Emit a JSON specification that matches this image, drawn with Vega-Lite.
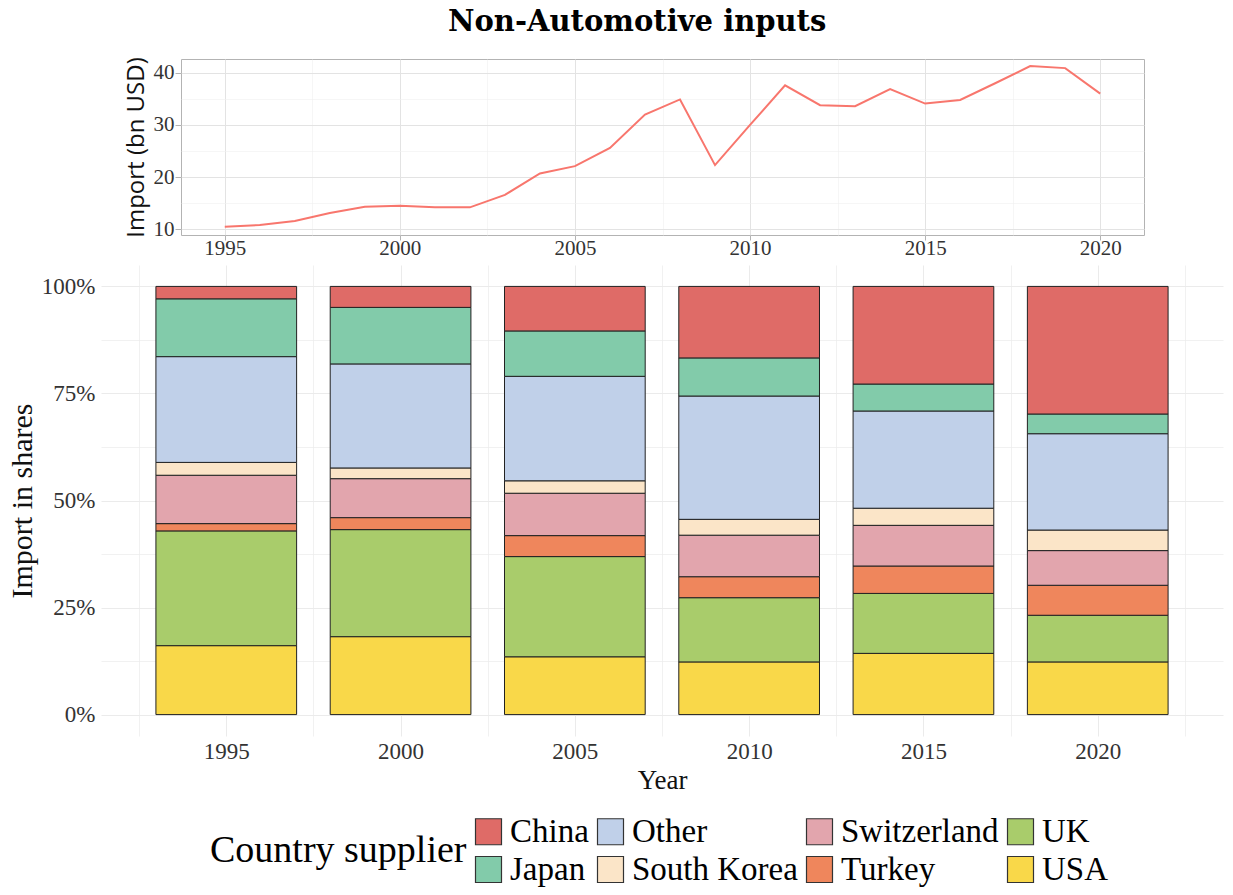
{
  "$schema": "https://vega.github.io/schema/vega-lite/v6.json",
  "background": "white",
  "padding": {"left": 7, "top": 8, "right": 4, "bottom": 4},
  "title": {"text": "Non-Automotive inputs", "font": "DejaVu Serif", "fontSize": 29, "fontWeight": "bold", "color": "#000", "anchor": "middle", "dx": 22, "offset": 19},
  "datasets": {
    "imports": [
      {"year": 1995, "import": 10.5}, {"year": 1996, "import": 10.8}, {"year": 1997, "import": 11.6},
      {"year": 1998, "import": 13.1}, {"year": 1999, "import": 14.3}, {"year": 2000, "import": 14.5},
      {"year": 2001, "import": 14.2}, {"year": 2002, "import": 14.2}, {"year": 2003, "import": 16.6},
      {"year": 2004, "import": 20.7}, {"year": 2005, "import": 22.1}, {"year": 2006, "import": 25.6},
      {"year": 2007, "import": 32.0}, {"year": 2008, "import": 34.9}, {"year": 2009, "import": 22.3},
      {"year": 2010, "import": 30.0}, {"year": 2011, "import": 37.6}, {"year": 2012, "import": 33.8},
      {"year": 2013, "import": 33.6}, {"year": 2014, "import": 36.9}, {"year": 2015, "import": 34.1},
      {"year": 2016, "import": 34.8}, {"year": 2017, "import": 38.0}, {"year": 2018, "import": 41.3},
      {"year": 2019, "import": 40.9}, {"year": 2020, "import": 36.0}
    ],
    "shares": [
      {"year": 1995, "country": "USA", "share": 16.1}, {"year": 1995, "country": "UK", "share": 26.8},
      {"year": 1995, "country": "Turkey", "share": 1.7}, {"year": 1995, "country": "Switzerland", "share": 11.3},
      {"year": 1995, "country": "South Korea", "share": 3.0}, {"year": 1995, "country": "Other", "share": 24.7},
      {"year": 1995, "country": "Japan", "share": 13.5}, {"year": 1995, "country": "China", "share": 2.9},
      {"year": 2000, "country": "USA", "share": 18.2}, {"year": 2000, "country": "UK", "share": 25.0},
      {"year": 2000, "country": "Turkey", "share": 2.8}, {"year": 2000, "country": "Switzerland", "share": 9.1},
      {"year": 2000, "country": "South Korea", "share": 2.5}, {"year": 2000, "country": "Other", "share": 24.3},
      {"year": 2000, "country": "Japan", "share": 13.2}, {"year": 2000, "country": "China", "share": 4.9},
      {"year": 2005, "country": "USA", "share": 13.5}, {"year": 2005, "country": "UK", "share": 23.4},
      {"year": 2005, "country": "Turkey", "share": 4.9}, {"year": 2005, "country": "Switzerland", "share": 9.9},
      {"year": 2005, "country": "South Korea", "share": 2.9}, {"year": 2005, "country": "Other", "share": 24.4},
      {"year": 2005, "country": "Japan", "share": 10.6}, {"year": 2005, "country": "China", "share": 10.4},
      {"year": 2010, "country": "USA", "share": 12.3}, {"year": 2010, "country": "UK", "share": 15.0},
      {"year": 2010, "country": "Turkey", "share": 4.9}, {"year": 2010, "country": "Switzerland", "share": 9.7},
      {"year": 2010, "country": "South Korea", "share": 3.7}, {"year": 2010, "country": "Other", "share": 28.8},
      {"year": 2010, "country": "Japan", "share": 8.9}, {"year": 2010, "country": "China", "share": 16.7},
      {"year": 2015, "country": "USA", "share": 14.3}, {"year": 2015, "country": "UK", "share": 14.0},
      {"year": 2015, "country": "Turkey", "share": 6.4}, {"year": 2015, "country": "Switzerland", "share": 9.5},
      {"year": 2015, "country": "South Korea", "share": 4.0}, {"year": 2015, "country": "Other", "share": 22.7},
      {"year": 2015, "country": "Japan", "share": 6.3}, {"year": 2015, "country": "China", "share": 22.8},
      {"year": 2020, "country": "USA", "share": 12.3}, {"year": 2020, "country": "UK", "share": 10.9},
      {"year": 2020, "country": "Turkey", "share": 7.0}, {"year": 2020, "country": "Switzerland", "share": 8.1},
      {"year": 2020, "country": "South Korea", "share": 4.8}, {"year": 2020, "country": "Other", "share": 22.5},
      {"year": 2020, "country": "Japan", "share": 4.6}, {"year": 2020, "country": "China", "share": 29.8}
    ]
  },
  "spacing": 6,
  "resolve": {"scale": {"color": "independent"}, "legend": {"color": "independent"}},
  "vconcat": [
    {
      "spacing": 0,
      "bounds": "flush",
      "hconcat": [
        {
          "width": 80,
          "height": 176,
          "data": {"values": [{"blank": ""}]},
          "mark": {"type": "text", "text": ""},
          "encoding": {}
        },
        {
          "width": 963,
          "height": 176,
          "data": {"name": "imports"},
          "view": {"stroke": "#B3B3B3", "strokeWidth": 1},
          "mark": {"type": "line", "color": "#F8766D", "strokeWidth": 2},
          "encoding": {
            "x": {
              "field": "year", "type": "quantitative",
              "scale": {"domain": [1993.75, 2021.25], "nice": false, "zero": false},
              "axis": {
                "title": null,
                "values": [1995, 1997.5, 2000, 2002.5, 2005, 2007.5, 2010, 2012.5, 2015, 2017.5, 2020],
                "format": "d",
                "labelExpr": "datum.value % 5 === 0 ? datum.label : ''",
                "grid": true,
                "gridColor": {"condition": {"test": "datum.value % 5 === 0", "value": "#E3E3E3"}, "value": "#F0F0F0"},
                "gridWidth": {"condition": {"test": "datum.value % 5 === 0", "value": 1}, "value": 0.6},
                "ticks": true,
                "tickColor": "#B3B3B3",
                "tickSize": 5,
                "tickOpacity": {"condition": {"test": "datum.value % 5 === 0", "value": 1}, "value": 0},
                "labelFontSize": 21,
                "labelPadding": -3
              }
            },
            "y": {
              "field": "import", "type": "quantitative",
              "scale": {"domain": [8.9, 42.65], "nice": false, "zero": false},
              "axis": {
                "title": "Import (bn USD)",
                "titleFont": "Open Sans",
                "titleFontSize": 24,
                "titlePadding": 5,
                "values": [10, 15, 20, 25, 30, 35, 40],
                "labelExpr": "datum.value % 10 === 0 ? datum.label : ''",
                "grid": true,
                "gridColor": {"condition": {"test": "datum.value % 10 === 0", "value": "#E3E3E3"}, "value": "#F0F0F0"},
                "gridWidth": {"condition": {"test": "datum.value % 10 === 0", "value": 1}, "value": 0.6},
                "ticks": true,
                "tickColor": "#B3B3B3",
                "tickSize": 6,
                "tickOpacity": {"condition": {"test": "datum.value % 10 === 0", "value": 1}, "value": 0},
                "labelFontSize": 21,
                "labelPadding": 1
              }
            }
          }
        }
      ]
    },
    {
      "width": 1122,
      "height": 471,
      "data": {"name": "shares"},
      "mark": {"type": "bar", "width": 140.7, "stroke": "#222", "strokeWidth": 1, "opacity": 1},
      "encoding": {
        "x": {
          "field": "year", "type": "quantitative",
          "scale": {"domain": [1991.55, 2023.45], "nice": false, "zero": false},
          "axis": {
            "title": "Year",
            "titleFontSize": 27,
            "titlePadding": 4,
            "values": [1992.5, 1995, 1997.5, 2000, 2002.5, 2005, 2007.5, 2010, 2012.5, 2015, 2017.5, 2020, 2022.5],
            "format": "d",
            "labelExpr": "datum.value % 5 === 0 ? datum.label : ''",
            "grid": true,
            "gridColor": "#EBEBEB",
            "gridWidth": {"condition": {"test": "datum.value % 5 === 0", "value": 1}, "value": 0.7},
            "ticks": false,
            "labelFontSize": 23,
            "labelPadding": 4
          }
        },
        "y": {
          "field": "share", "type": "quantitative", "stack": "zero",
          "scale": {"domain": [-5, 105], "nice": false, "zero": false},
          "axis": {
            "title": "Import in shares",
            "titleFontSize": 30,
            "titlePadding": 4,
            "values": [0, 12.5, 25, 37.5, 50, 62.5, 75, 87.5, 100],
            "labelExpr": "datum.value % 25 === 0 ? datum.value + '%' : ''",
            "grid": true,
            "gridColor": "#EBEBEB",
            "gridWidth": {"condition": {"test": "datum.value % 25 === 0", "value": 1}, "value": 0.7},
            "ticks": false,
            "labelFontSize": 23,
            "labelPadding": 6
          }
        },
        "color": {
          "field": "country", "type": "nominal",
          "scale": {
            "domain": ["China", "Other", "Switzerland", "UK", "Japan", "South Korea", "Turkey", "USA"],
            "range": ["#DF6B67", "#C0D0E9", "#E2A5AD", "#A9CC6B", "#82CBAA", "#FBE5C8", "#EF865C", "#F9D849"]
          },
          "legend": {
            "title": "Country supplier",
            "orient": "none",
            "legendX": 109,
            "legendY": 550,
            "direction": "horizontal",
            "columns": 4,
            "titleOrient": "left",
            "titleAnchor": "middle",
            "titleBaseline": "middle",
            "titleFont": "Liberation Serif",
            "titleFontSize": 38,
            "titleFontWeight": "normal",
            "titleColor": "#000",
            "titlePadding": 5,
            "titleLimit": 600,
            "labelFont": "Liberation Serif",
            "labelFontSize": 33,
            "labelColor": "#000",
            "labelOffset": 5,
            "labelLimit": 600,
            "symbolType": "square",
            "symbolSize": 676,
            "symbolStrokeColor": "#333",
            "symbolStrokeWidth": 1.2,
            "symbolOpacity": 1,
            "columnPadding": 5,
            "rowPadding": 4
          }
        },
        "order": {"field": "country", "sort": "descending"}
      }
    }
  ],
  "config": {
    "view": {"stroke": null},
    "font": "Liberation Serif",
    "axis": {
      "labelFont": "Liberation Serif",
      "labelColor": "#333",
      "titleFont": "Liberation Serif",
      "titleFontWeight": "normal",
      "titleColor": "#111",
      "domain": false
    }
  }
}
